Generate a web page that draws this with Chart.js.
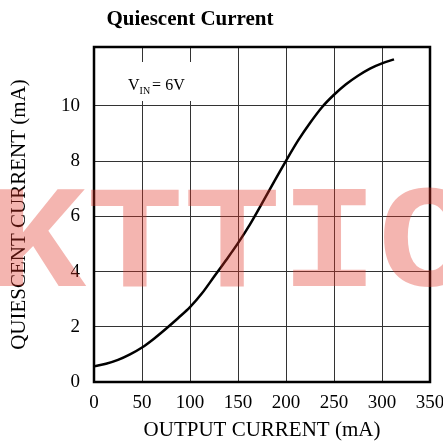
<!DOCTYPE html>
<html>
<head>
<meta charset="utf-8">
<script src="https://cdn.jsdelivr.net/npm/chart.js@4/dist/chart.umd.min.js"></script>
<style>
  html, body { margin: 0; padding: 0; background: #fff; }
  #wrap { width: 443px; height: 445px; position: relative; }
</style>
</head>
<body>
<div id="wrap"><canvas id="chart"></canvas></div>
<script>
// Output current (mA) vs quiescent current (mA)
const outputCurrent = [0, 12.5, 25, 37.5, 50, 62.5, 75, 87.5, 100, 112.5, 125, 137.5, 150,
    162.5, 175, 187.5, 200, 212.5, 225, 237.5, 250, 262.5, 275, 287.5, 300, 312.5];
const quiescentCurrent = [0.57, 0.66, 0.80, 1.00, 1.25, 1.57, 1.93, 2.31, 2.71, 3.21, 3.81, 4.41, 5.03,
    5.71, 6.47, 7.25, 8.01, 8.74, 9.38, 9.95, 10.40, 10.78, 11.09, 11.35, 11.54, 11.68];

const xTicks = [0, 50, 100, 150, 200, 250, 300, 350];
const yTicks = [0, 2, 4, 6, 8, 10];

const chartTitle = 'Quiescent Current';
const xTitle = 'OUTPUT CURRENT (mA)';
const yTitle = 'QUIESCENT CURRENT (mA)';
const watermark = 'KTTIC';

const serif = '"Liberation Serif", "Times New Roman", serif';

// Frame, title, V_IN note and watermark
const decorations = {
    id: 'decorations',
    afterDraw(chart) {
        const ctx = chart.ctx;
        const a = chart.chartArea;
        ctx.save();

        // thick frame round the plot
        ctx.strokeStyle = '#000';
        ctx.lineWidth = 2.5;
        ctx.strokeRect(a.left, a.top, a.right - a.left, a.bottom - a.top);

        // title
        ctx.fillStyle = '#000';
        ctx.font = 'bold 21px ' + serif;
        ctx.textAlign = 'center';
        ctx.textBaseline = 'alphabetic';
        ctx.fillText(chartTitle, 190, 25);

        // V_IN = 6V note with white box over the grid
        ctx.fillStyle = '#fff';
        ctx.fillRect(125, 62, 67, 39);
        ctx.fillStyle = '#000';
        ctx.textAlign = 'left';
        ctx.font = '16px ' + serif;
        ctx.fillText('V', 128, 90);
        let x = 128 + ctx.measureText('V').width;
        ctx.font = '10px ' + serif;
        ctx.fillText('IN', x, 94);
        x += ctx.measureText('IN').width + 2;
        ctx.font = '16px ' + serif;
        ctx.fillText('= 6V', x, 90);

        // watermark
        ctx.fillStyle = 'rgba(225, 50, 35, 0.36)';
        ctx.font = 'bold 162px "Liberation Mono", "Courier New", monospace';
        ctx.translate(0, 286);
        ctx.scale(1, 0.91);
        ctx.fillText(watermark, -11, 0);

        ctx.restore();
    }
};

const ctx = document.getElementById('chart').getContext('2d');
new Chart(ctx, {
    type: 'line',
    data: {
        datasets: [{
            data: outputCurrent.map((v, i) => ({ x: v, y: quiescentCurrent[i] })),
            borderColor: '#000',
            borderWidth: 2.5,
            pointRadius: 0,
            fill: false,
            cubicInterpolationMode: 'monotone'
        }]
    },
    options: {
        responsive: true,
        maintainAspectRatio: false,
        animation: false,
        layout: { padding: { top: 47, right: 13, left: 0, bottom: 0 } },
        plugins: {
            legend: { display: false },
            tooltip: { enabled: false }
        },
        scales: {
            x: {
                type: 'linear',
                min: 0,
                max: 350,
                afterBuildTicks: s => { s.ticks = xTicks.map(v => ({ value: v })); },
                afterFit: s => { s.height = 63; s.paddingLeft = 0; s.paddingRight = 0; },
                grid: { color: '#333', lineWidth: 1, drawTicks: false },
                border: { display: false },
                ticks: {
                    color: '#000',
                    padding: 10,
                    maxRotation: 0,
                    font: { family: serif, size: 19 }
                },
                title: {
                    display: true,
                    text: xTitle,
                    color: '#000',
                    padding: { bottom: 2 },
                    font: { family: serif, size: 21 }
                }
            },
            y: {
                type: 'linear',
                min: 0,
                max: 12.13,
                afterBuildTicks: s => { s.ticks = yTicks.map(v => ({ value: v })); },
                afterFit: s => { s.width = 94; s.paddingTop = 0; s.paddingBottom = 0; },
                grid: { color: '#333', lineWidth: 1, drawTicks: false },
                border: { display: false },
                ticks: {
                    color: '#000',
                    padding: 14,
                    font: { family: serif, size: 19 }
                },
                title: {
                    display: true,
                    text: yTitle,
                    color: '#000',
                    padding: { top: 7 },
                    font: { family: serif, size: 21 }
                }
            }
        }
    },
    plugins: [decorations]
});
</script>
</body>
</html>
